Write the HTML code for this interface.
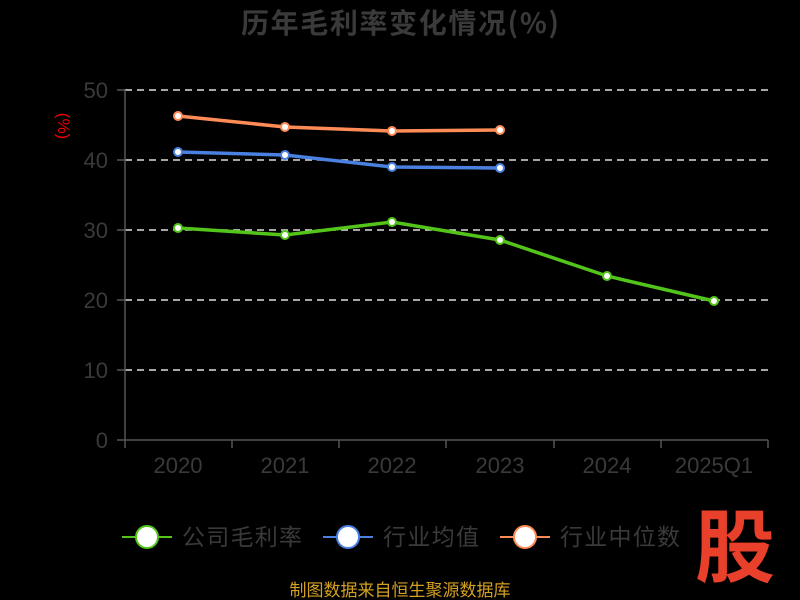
<!DOCTYPE html>
<html><head><meta charset="utf-8"><style>
html,body{margin:0;padding:0;background:#000;width:800px;height:600px;overflow:hidden}
</style></head><body>
<svg width="800" height="600" viewBox="0 0 800 600" xmlns="http://www.w3.org/2000/svg" font-family="'Liberation Sans','Noto Sans CJK SC',sans-serif">
<rect width="800" height="600" fill="#000"/>
<text x="400" y="33" text-anchor="middle" font-size="28" font-weight="bold" fill="#3a3a3a" font-family="'Noto Sans CJK SC',sans-serif" textLength="318">历年毛利率变化情况(%)</text>
<g stroke="#ddd" stroke-width="1.5" stroke-dasharray="7,5">
<line x1="125" y1="90" x2="768" y2="90"/><line x1="125" y1="160" x2="768" y2="160"/>
<line x1="125" y1="230" x2="768" y2="230"/><line x1="125" y1="300" x2="768" y2="300"/>
<line x1="125" y1="370" x2="768" y2="370"/>
</g>
<g stroke="#555" stroke-width="1.5">
<line x1="125" y1="90" x2="125" y2="440"/><line x1="125" y1="440" x2="768" y2="440"/>
<line x1="117" y1="90" x2="125" y2="90"/><line x1="117" y1="160" x2="125" y2="160"/>
<line x1="117" y1="230" x2="125" y2="230"/><line x1="117" y1="300" x2="125" y2="300"/>
<line x1="117" y1="370" x2="125" y2="370"/><line x1="117" y1="440" x2="125" y2="440"/>
<line x1="125" y1="440" x2="125" y2="448"/><line x1="232" y1="440" x2="232" y2="448"/>
<line x1="339" y1="440" x2="339" y2="448"/><line x1="446" y1="440" x2="446" y2="448"/>
<line x1="554" y1="440" x2="554" y2="448"/><line x1="661" y1="440" x2="661" y2="448"/>
<line x1="768" y1="440" x2="768" y2="448"/>
</g>
<g font-size="22" fill="#3a3a3a" text-anchor="end">
<text x="108" y="98">50</text><text x="108" y="168">40</text><text x="108" y="238">30</text>
<text x="108" y="308">20</text><text x="108" y="378">10</text><text x="108" y="448">0</text>
</g>
<g font-size="22" fill="#3a3a3a" text-anchor="middle">
<text x="178" y="473">2020</text><text x="285" y="473">2021</text><text x="392" y="473">2022</text>
<text x="500" y="473">2023</text><text x="607" y="473">2024</text><text x="714" y="473">2025Q1</text>
</g>
<text transform="translate(58,126) rotate(90)" text-anchor="middle" font-size="17" fill="#e00">(%)</text>
<polyline fill="none" stroke="#ff8c57" stroke-width="3.5" points="178,116 285,127 392,131 500,130"/>
<polyline fill="none" stroke="#4a80e0" stroke-width="3.5" points="178,152 285,155 392,167 500,168"/>
<polyline fill="none" stroke="#52c41a" stroke-width="3.5" points="178,228 285,235 392,222 500,240 607,276 714,301"/>
<g fill="#fff" stroke-width="2">
<g stroke="#ff8c57"><circle cx="178" cy="116" r="4"/><circle cx="285" cy="127" r="4"/><circle cx="392" cy="131" r="4"/><circle cx="500" cy="130" r="4"/></g>
<g stroke="#4a80e0"><circle cx="178" cy="152" r="4"/><circle cx="285" cy="155" r="4"/><circle cx="392" cy="167" r="4"/><circle cx="500" cy="168" r="4"/></g>
<g stroke="#52c41a"><circle cx="178" cy="228" r="4"/><circle cx="285" cy="235" r="4"/><circle cx="392" cy="222" r="4"/><circle cx="500" cy="240" r="4"/><circle cx="607" cy="276" r="4"/><circle cx="714" cy="301" r="4"/></g>
</g>
<g font-size="23" fill="#3a3a3a">
<line x1="122" y1="537" x2="172" y2="537" stroke="#52c41a" stroke-width="2"/>
<circle cx="147" cy="537" r="11" fill="#fff" stroke="#52c41a" stroke-width="2"/>
<text x="182" y="545" textLength="120">公司毛利率</text>
<line x1="323" y1="537" x2="373" y2="537" stroke="#4a80e0" stroke-width="2"/>
<circle cx="348" cy="537" r="11" fill="#fff" stroke="#4a80e0" stroke-width="2"/>
<text x="383" y="545" textLength="96">行业均值</text>
<line x1="500" y1="537" x2="550" y2="537" stroke="#ff8c57" stroke-width="2"/>
<circle cx="525" cy="537" r="11" fill="#fff" stroke="#ff8c57" stroke-width="2"/>
<text x="560" y="545" textLength="120">行业中位数</text>
</g>
<text x="735" y="576" text-anchor="middle" font-size="80" font-weight="bold" fill="#e8402a">股</text>
<text x="400" y="596" text-anchor="middle" font-size="17" fill="#d4a020">制图数据来自恒生聚源数据库</text>
</svg>
</body></html>
